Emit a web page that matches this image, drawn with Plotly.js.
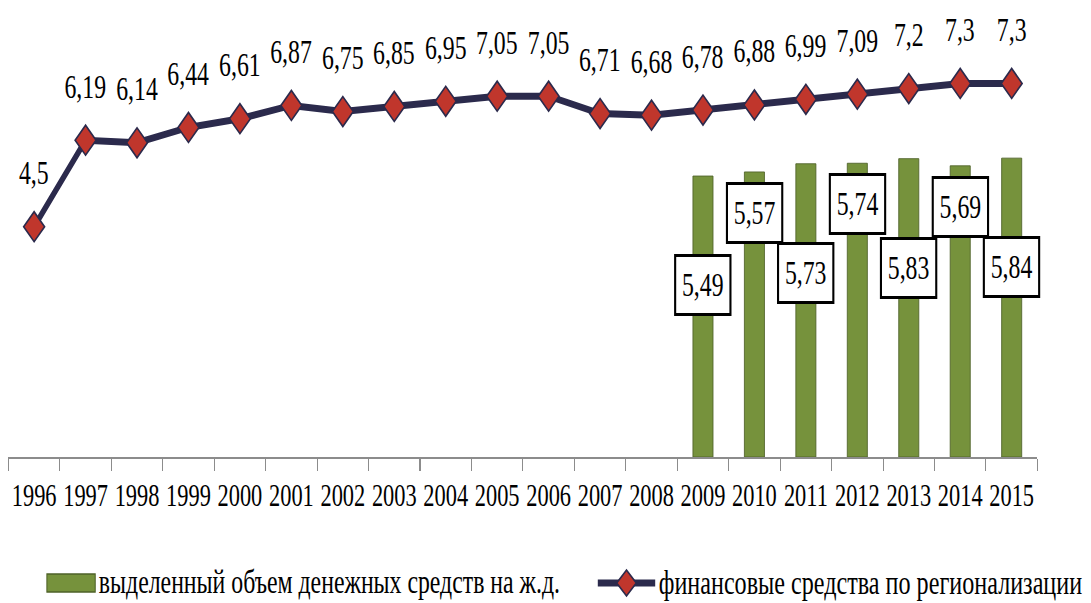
<!DOCTYPE html>
<html>
<head>
<meta charset="utf-8">
<script src="https://cdn.plot.ly/plotly-3.0.1.min.js"></script>
<style>
html,body{margin:0;padding:0;overflow:hidden;background:#fff;}
#chart{width:1559px;height:603px;transform:scaleX(0.7);transform-origin:0 0;}
</style>
</head>
<body>
<div id="chart"></div>
<script>
// ---- data ----
const years = ['1996','1997','1998','1999','2000','2001','2002','2003','2004','2005','2006','2007','2008','2009','2010','2011','2012','2013','2014','2015'];
const regionalFunds = [4.5, 6.19, 6.14, 6.44, 6.61, 6.87, 6.75, 6.85, 6.95, 7.05, 7.05, 6.71, 6.68, 6.78, 6.88, 6.99, 7.09, 7.2, 7.3, 7.3];
const barYears = ['2009','2010','2011','2012','2013','2014','2015'];
const railFunds = [5.49, 5.57, 5.73, 5.74, 5.83, 5.69, 5.84];
const seriesNames = ['выделенный объем денежных средств на ж.д.', 'финансовые средства по регионализации'];

// ---- styles ----
const W = 1559, H = 603;
const M = {l: 12, r: 77, t: 0, b: 146};
const PW = W - M.l - M.r, PH = H - M.t - M.b;
const px = x => (x - M.l) / PW;
const py = y => (M.t + PH - y) / PH;
const fmt = v => String(v).replace('.', ',');
const SERIF = 'Liberation Serif';
const NAVY = '#2b2a4c', RED = '#c0362c', GREEN = '#76923c', GREEN_D = '#4e6128';

const traces = [
  {
    type: 'bar', x: barYears, y: railFunds, name: seriesNames[0],
    marker: {color: GREEN, line: {color: GREEN_D, width: 1}},
    width: 0.39, hoverinfo: 'skip'
  },
  {
    type: 'scatter', mode: 'lines+markers', x: years, y: regionalFunds, name: seriesNames[1],
    line: {color: NAVY, width: 7},
    marker: {symbol: 'diamond', size: 23, color: RED, line: {color: NAVY, width: 2}},
    hoverinfo: 'skip'
  }
];

const annotations = [];
years.forEach((yr, i) => {
  annotations.push({
    x: years.indexOf(yr), y: regionalFunds[i], xref: 'x', yref: 'y', text: fmt(regionalFunds[i]),
    showarrow: false, yanchor: 'middle', xanchor: 'center', yshift: 54,
    font: {family: SERIF, size: 34, color: '#000'}
  });
});
barYears.forEach((yr, i) => {
  annotations.push({
    x: years.indexOf(yr), y: railFunds[i], xref: 'x', yref: 'y', text: fmt(railFunds[i]),
    showarrow: false, yanchor: 'top', xanchor: 'center', yshift: (i % 2 === 0) ? -78 : -10,
    font: {family: SERIF, size: 34, color: '#000'},
    bgcolor: '#fff', bordercolor: '#000', borderwidth: 3, borderpad: 0,
    width: 76, height: 56
  });
});
// legend texts
annotations.push({
  xref: 'paper', yref: 'paper', x: px(139), y: py(582), text: seriesNames[0],
  showarrow: false, xanchor: 'left', yanchor: 'middle',
  font: {family: SERIF, size: 34, color: '#000'}
});
annotations.push({
  xref: 'paper', yref: 'paper', x: px(939), y: py(582), text: seriesNames[1],
  showarrow: false, xanchor: 'left', yanchor: 'middle',
  font: {family: SERIF, size: 34.5, color: '#000'}
});

const shapes = [
  {type: 'rect', xref: 'paper', yref: 'paper', x0: px(67), x1: px(136), y0: py(592), y1: py(574),
   fillcolor: GREEN, line: {color: GREEN_D, width: 1.5}},
  {type: 'line', xref: 'paper', yref: 'paper', x0: px(854), x1: px(936), y0: py(583), y1: py(583),
   line: {color: NAVY, width: 7}},
  {type: 'path', xref: 'paper', yref: 'paper', xsizemode: 'pixel', ysizemode: 'pixel',
   xanchor: px(895), yanchor: py(583), path: 'M-14,0L0,-13L14,0L0,13Z',
   fillcolor: RED, line: {color: NAVY, width: 2}}
];

const layout = {
  width: W, height: H,
  margin: M,
  paper_bgcolor: '#fff', plot_bgcolor: '#fff',
  showlegend: false,
  xaxis: {
    type: 'category', categoryorder: 'array', categoryarray: years,
    range: [-0.5, 19.5],
    showline: true, linecolor: '#8c8c8c', linewidth: 2,
    ticks: 'outside', tickson: 'boundaries', ticklen: 12, tickcolor: '#8c8c8c', tickwidth: 1.5,
    showgrid: false, zeroline: false,
    tickfont: {family: SERIF, size: 32, color: '#000'},
    ticklabelstandoff: 9,
    fixedrange: true
  },
  yaxis: {
    range: [0, 8.93], visible: false, showgrid: false, zeroline: false, fixedrange: true
  },
  annotations: annotations,
  shapes: shapes
};

Plotly.newPlot('chart', traces, layout, {displayModeBar: false, staticPlot: true});
</script>
</body>
</html>
